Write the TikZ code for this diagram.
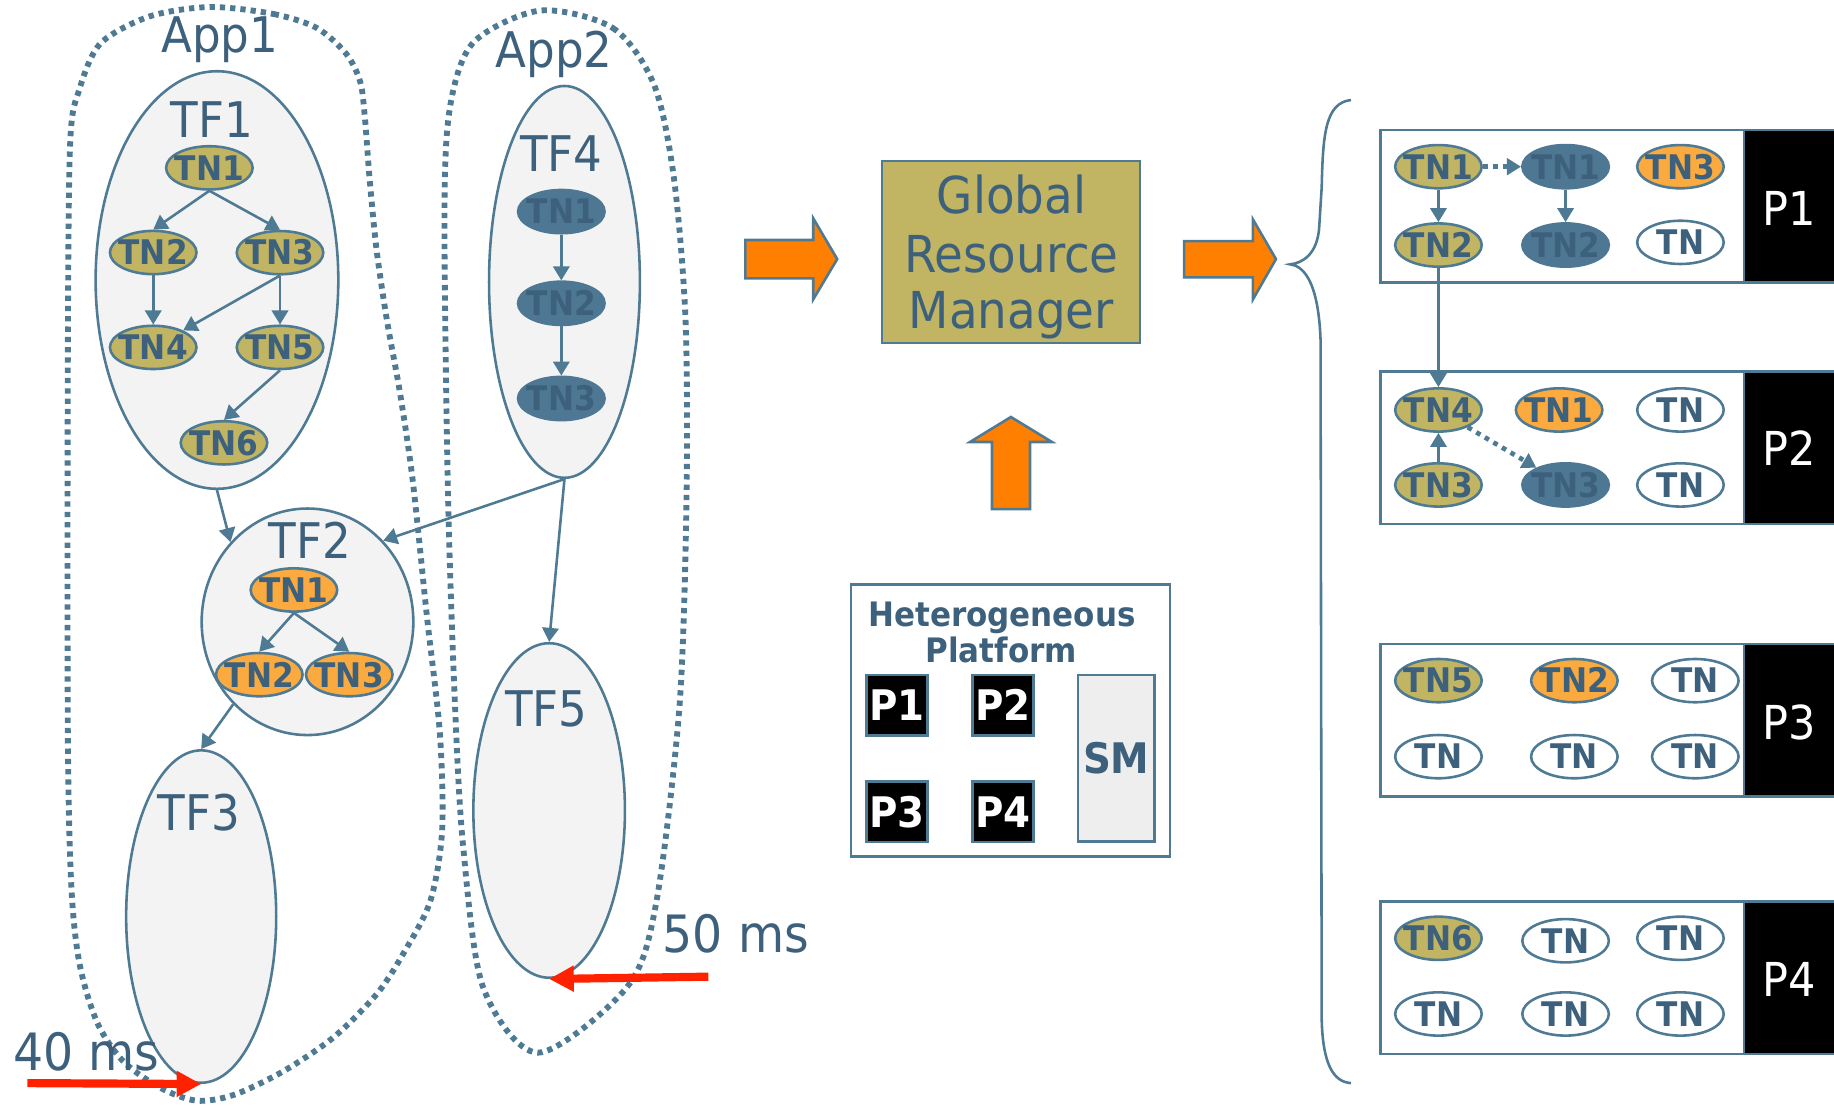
\documentclass[tikz,border=0pt]{standalone}
\usepackage{fontspec}
\setmainfont{DejaVu Sans}[FakeStretch=0.92]
\usetikzlibrary{shapes.geometric,arrows.meta}
\definecolor{lineblue}{HTML}{4E7A94}
\definecolor{txtblue}{HTML}{3D617D}
\definecolor{olivec}{HTML}{C1B462}
\definecolor{tnorange}{HTML}{FBAA3F}
\definecolor{blockorange}{HTML}{FF7F00}
\definecolor{redc}{HTML}{FF2200}
\definecolor{tffill}{HTML}{F3F3F3}
\definecolor{darktn}{HTML}{4D7792}
\definecolor{smfill}{HTML}{EEEEEE}
\newcommand\tnt[1]{\makebox[0pt]{#1}}
\tikzset{
  tnbase/.style={ellipse, draw=lineblue, line width=2.2pt, minimum width=74pt, minimum height=37pt,
    inner sep=0pt, text=txtblue, font=\fontsize{29}{29}\selectfont\bfseries, text height=21.1pt, text depth=0pt},
  olv/.style={tnbase, fill=olivec},
  org/.style={tnbase, fill=tnorange},
  drk/.style={tnbase, fill=darktn, draw=darktn},
  wht/.style={tnbase, fill=white},
  tfshape/.style={ellipse, draw=lineblue, line width=2.2pt, fill=tffill, inner sep=0pt},
  biglab/.style={text=txtblue, inner sep=0pt, font=\fontsize{42}{42}\selectfont, anchor=base},
  conn/.style={draw=lineblue, line width=2.2pt, -{Triangle[length=12pt,width=14pt]}},
  dotconn/.style={draw=lineblue, line width=4pt, dash pattern=on 4pt off 4.5pt, -{Triangle[length=12pt,width=14pt]}},
  appline/.style={draw=lineblue, line width=5pt, dash pattern=on 4.5pt off 4.3pt},
  redarrow/.style={draw=redc, line width=7pt, -{Triangle[length=21pt,width=21pt]}},
  blockarr/.style={fill=blockorange, draw=lineblue, line width=2.2pt, line join=miter},
  pwhite/.style={rectangle, draw=lineblue, line width=2.2pt, fill=white, minimum width=310.6pt, minimum height=130.3pt, inner sep=0pt},
  pblack/.style={rectangle, draw=lineblue, line width=2.2pt, fill=black, minimum width=84pt, minimum height=130.3pt, inner sep=0pt},
  plab/.style={text=white, inner sep=0pt, font=\fontsize{40}{40}\selectfont, anchor=base},
  hpbox/.style={rectangle, draw=lineblue, line width=2.2pt, fill=black, minimum width=52pt, minimum height=52pt,
    inner sep=0pt, text=white, font=\fontsize{36}{36}\selectfont\bfseries, text height=26.2pt, text depth=0pt},
}
\begin{document}
\begin{tikzpicture}[x=1pt,y=-1pt]
\useasboundingbox (0,0) rectangle (1568,946);
\clip (0,0) rectangle (1568,946);

% application outlines
\draw[appline] plot[smooth cycle] coordinates {(179.5,6) (234,12) (271,24) (296,46) (308,70) (312,101) (316,153) (322,214) (331,275) (342,336) (353,412) (365,527) (376,626) (378,710) (368,770) (345,815) (322,850) (285,887) (242,916) (200,936) (168,941) (137,930) (105,907) (83,874) (68,824) (61,758) (58,626) (58,305) (60,122) (68,76) (86,37) (128,14)};
\draw[appline] plot[smooth cycle] coordinates {(462,9) (524,24) (559,72) (576,151) (586,271) (587,422) (581,603) (561,772) (536,844) (460,900) (413,844) (396,724) (389,603) (383,422) (380,181) (385,90) (405,36)};

% task flow ellipses
\node[tfshape, minimum width=207.5pt, minimum height=357pt] (tf1) at (185.5,239.4) {};
\node[tfshape, minimum width=181pt, minimum height=193.7pt] (tf2) at (262.9,531.6) {};
\node[tfshape, minimum width=128.3pt, minimum height=284.2pt] (tf3) at (172,783.6) {};
\node[tfshape, minimum width=129pt, minimum height=335pt] (tf4) at (482.6,241) {};
\node[tfshape, minimum width=129.6pt, minimum height=286pt] (tf5) at (469.5,692.9) {};

% labels
\node[biglab] (lapp1) at (187.8,45.2) {App1};
\node[biglab] (lapp2) at (473.8,57.3) {App2};
\node[biglab] (ltf1) at (181.4,117.5) {TF1};
\node[biglab] (ltf2) at (264.7,477.7) {TF2};
\node[biglab] (ltf3) at (169.8,710) {TF3};
\node[biglab] (ltf4) at (480,146.5) {TF4};
\node[biglab] (ltf5) at (467.2,621) {TF5};

% TF1 nodes
\node[olv] (t1a) at (179,143.5) {\tnt{TN1}};
\node[olv] (t1b) at (131,215.9) {\tnt{TN2}};
\node[olv] (t1c) at (239.4,216) {\tnt{TN3}};
\node[olv] (t1d) at (131,297) {\tnt{TN4}};
\node[olv] (t1e) at (239.4,297) {\tnt{TN5}};
\node[olv] (t1f) at (191.5,378.6) {\tnt{TN6}};
\draw[conn] (t1a.south) -- (t1b.north);
\draw[conn] (t1a.south) -- (t1c.north);
\draw[conn] (t1b.south) -- (t1d.north);
\draw[conn] (t1c.south) -- (t1d);
\draw[conn] (t1c.south) -- (t1e.north);
\draw[conn] (t1e.south) -- (t1f.north);

% TF2 nodes
\node[org] (t2a) at (251.3,504.4) {\tnt{TN1}};
\node[org] (t2b) at (221.7,576.8) {\tnt{TN2}};
\node[org] (t2c) at (298.6,576.8) {\tnt{TN3}};
\draw[conn] (t2a.south) -- (t2b.north);
\draw[conn] (t2a.south) -- (t2c.north);

% TF4 nodes
\node[drk] (t4a) at (479.9,180.9) {\tnt{TN1}};
\node[drk] (t4b) at (479.9,259.3) {\tnt{TN2}};
\node[drk] (t4c) at (479.9,340.7) {\tnt{TN3}};
\draw[conn] (t4a.south) -- (t4b.north);
\draw[conn] (t4b.south) -- (t4c.north);

% flow connectors
\draw[conn] (tf1.south) -- (tf2.134);
\draw[conn] (tf4.south) -- (tf2.47);
\draw[conn] (tf4.south) -- (tf5.north);
\draw[conn] (tf2.228) -- (tf3.north);

% deadlines
\coordinate (r40) at (23.4,926);
\coordinate (r50) at (605.6,835);
\node[text=txtblue, inner sep=0pt, font=\fontsize{44}{44}\selectfont, anchor=base west] (l40) at (11,915.3) {40 ms};
\node[text=txtblue, inner sep=0pt, font=\fontsize{44}{44}\selectfont, anchor=base west] (l50) at (566.5,814.5) {50 ms};
\draw[redarrow] (r40) -- (tf3.south);
\draw[redarrow] (r50) -- (tf5.south);

% block arrows
\draw[blockarr] (637.2,205.2) -- (695.3,205.2) -- (695.3,186.7) -- (715.8,221.5) -- (695.3,255.9) -- (695.3,238) -- (637.2,238) -- cycle;
\draw[blockarr] (1012.3,206.2) -- (1071.2,206.2) -- (1071.2,187.6) -- (1090.9,221.5) -- (1071.2,256) -- (1071.2,237.2) -- (1012.3,237.2) -- cycle;
\draw[blockarr] (848.1,435.2) -- (848.1,377.9) -- (829.3,377.9) -- (864.3,356.5) -- (899.4,377.9) -- (880.6,377.9) -- (880.6,435.2) -- cycle;

% global resource manager
\node[rectangle, draw=lineblue, line width=2.2pt, fill=olivec, minimum width=220.8pt, minimum height=155.4pt, inner sep=0pt] (grm) at (864.3,215.5) {};
\node[text=txtblue, inner sep=0pt, font=\fontsize{43.5}{43.5}\selectfont, anchor=base] (grm1) at (864.7,182.6) {Global};
\node[text=txtblue, inner sep=0pt, font=\fontsize{43.5}{43.5}\selectfont, anchor=base] (grm2) at (864.7,233.1) {Resource};
\node[text=txtblue, inner sep=0pt, font=\fontsize{43.5}{43.5}\selectfont, anchor=base] (grm3) at (864.7,280.8) {Manager};

% heterogeneous platform
\node[rectangle, draw=lineblue, line width=2.2pt, fill=white, minimum width=272.6pt, minimum height=232.9pt, inner sep=0pt] (plat) at (864,616) {};
\node[text=txtblue, inner sep=0pt, font=\fontsize{28.8}{28.8}\selectfont\bfseries, anchor=base] (het1) at (856.7,535.6) {Heterogeneous};
\node[text=txtblue, inner sep=0pt, font=\fontsize{28.8}{28.8}\selectfont\bfseries, anchor=base] (het2) at (856.1,566) {Platform};
\node[hpbox] (hp1) at (767,603) {P1};
\node[hpbox] (hp2) at (857.5,603) {P2};
\node[hpbox] (hp3) at (767,694) {P3};
\node[hpbox] (hp4) at (857.5,694) {P4};
\node[rectangle, draw=lineblue, line width=2.2pt, fill=smfill, minimum width=65.4pt, minimum height=142pt, inner sep=0pt,
  text=txtblue, font=\fontsize{36}{36}\selectfont\bfseries, text height=26.2pt, text depth=0pt] (sm) at (954.4,648.2) {SM};

% brace
\draw[lineblue, line width=2.2pt] (1155,85.5) .. controls (1133,88) and (1131,115) .. (1130,160) -- (1128,192) .. controls (1127,218) and (1113,225) .. (1103,226) .. controls (1113,227) and (1127,238) .. (1129,290) -- (1130,872) .. controls (1131,910) and (1140,925) .. (1155,926);

% processors
\node[pwhite] (pw1) at (1335.7,176.2) {};
\node[pblack] (pb1) at (1533,176.2) {};
\node[plab] (pl1) at (1530,192.4) {P1};
\node[pwhite] (pw2) at (1335.7,382.9) {};
\node[pblack] (pb2) at (1533,382.9) {};
\node[plab] (pl2) at (1530,398.4) {P2};
\node[pwhite] (pw3) at (1335.7,615.9) {};
\node[pblack] (pb3) at (1533,615.9) {};
\node[plab] (pl3) at (1530,632) {P3};
\node[pwhite] (pw4) at (1335.7,836) {};
\node[pblack] (pb4) at (1533,836) {};
\node[plab] (pl4) at (1530,852.1) {P4};

% P1 contents
\node[olv] (p1a) at (1229.8,142.5) {\tnt{TN1}};
\node[drk] (p1b) at (1338.5,142.5) {\tnt{TN1}};
\node[org] (p1c) at (1436.7,142.5) {\tnt{TN3}};
\node[olv] (p1d) at (1229.8,209.5) {\tnt{TN2}};
\node[drk] (p1e) at (1338.5,209.5) {\tnt{TN2}};
\node[wht] (p1f) at (1436.7,207.2) {\tnt{TN}};
% P2 contents
\node[olv] (p2a) at (1229.8,350.5) {\tnt{TN4}};
\node[org] (p2b) at (1333,350.5) {\tnt{TN1}};
\node[wht] (p2c) at (1436.7,350.5) {\tnt{TN}};
\node[olv] (p2d) at (1229.8,414.6) {\tnt{TN3}};
\node[drk] (p2e) at (1338.5,414.6) {\tnt{TN3}};
\node[wht] (p2f) at (1436.7,414.6) {\tnt{TN}};
% P3 contents
\node[olv] (p3a) at (1229.8,581.9) {\tnt{TN5}};
\node[org] (p3b) at (1346,581.9) {\tnt{TN2}};
\node[wht] (p3c) at (1449.4,581.9) {\tnt{TN}};
\node[wht] (p3d) at (1229.8,646.9) {\tnt{TN}};
\node[wht] (p3e) at (1346,646.9) {\tnt{TN}};
\node[wht] (p3f) at (1449.4,646.9) {\tnt{TN}};
% P4 contents
\node[olv] (p4a) at (1229.8,802.2) {\tnt{TN6}};
\node[wht] (p4b) at (1338.5,804.3) {\tnt{TN}};
\node[wht] (p4c) at (1436.7,802.2) {\tnt{TN}};
\node[wht] (p4d) at (1229.8,866.9) {\tnt{TN}};
\node[wht] (p4e) at (1338.5,866.9) {\tnt{TN}};
\node[wht] (p4f) at (1436.7,866.9) {\tnt{TN}};

% schedule connectors
\draw[dotconn] (p1a.east) -- (p1b.west);
\draw[conn] (p1a.south) -- (p1d.north);
\draw[conn] (p1b.south) -- (p1e.north);
\draw[conn] (p1d.south) -- (p2a.north);
\draw[conn] (p2d.north) -- (p2a.south);
\draw[dotconn] (p2a) -- (p2e);
\end{tikzpicture}
\end{document}
